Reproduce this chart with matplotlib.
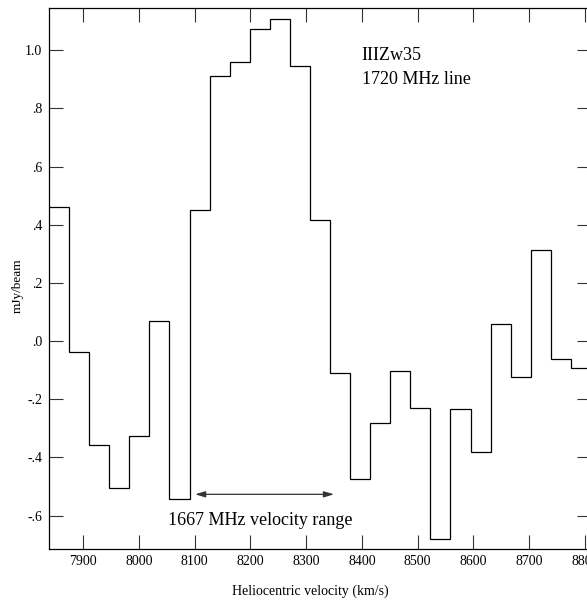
import matplotlib.pyplot as plt
from matplotlib.ticker import FixedLocator, FuncFormatter

plt.rcParams['font.family'] = ['Liberation Serif', 'DejaVu Serif']

# channel edges (km/s) and flux per channel (mJy/beam)
edges = [7839, 7875, 7911, 7947, 7983, 8019, 8055, 8091, 8127, 8163,
         8199, 8235, 8271, 8307, 8343, 8379, 8415, 8451, 8487, 8523,
         8559, 8595, 8631, 8667, 8703, 8739, 8775, 8811]
flux = [0.462, -0.037, -0.358, -0.505, -0.327, 0.070, -0.542, 0.451, 0.912,
        0.959, 1.073, 1.107, 0.946, 0.417, -0.109, -0.473, -0.281, -0.104,
        -0.230, -0.682, -0.233, -0.382, 0.059, -0.123, 0.313, -0.063, -0.094]

xticks = [7900, 8000, 8100, 8200, 8300, 8400, 8500, 8600, 8700, 8800]
yticks = [-0.6, -0.4, -0.2, 0.0, 0.2, 0.4, 0.6, 0.8, 1.0]

range_1667 = [8101, 8350]

fig = plt.figure(figsize=(5.87, 6.0), dpi=100)
ax = fig.add_axes([0.0835, 0.0845, 0.9233, 0.9017])

ax.stairs(flux, edges, color='black', lw=0.9, baseline=None)

ax.set_xlim(7839, 8811)
ax.set_ylim(-0.716, 1.144)

ax.xaxis.set_major_locator(FixedLocator(xticks))
ax.yaxis.set_major_locator(FixedLocator(yticks))
ax.yaxis.set_major_formatter(FuncFormatter(
    lambda v, p: f"{v:.1f}".replace("0.", ".") if abs(v) < 1 else f"{v:.1f}"))
ax.tick_params(direction='in', top=True, right=True, length=10, width=0.8,
               labelsize=10, color='#333333')
ax.tick_params(axis='x', pad=4)
ax.tick_params(axis='y', pad=5)
for s in ax.spines.values():
    s.set_linewidth(0.9)

ax.set_xlabel("Heliocentric velocity (km/s)", fontsize=10)
ax.xaxis.set_label_coords(0.4815, -0.066)
ax.set_ylabel("mJy/beam", fontsize=9.5)
ax.yaxis.set_label_coords(-0.046, 0.488)

ax.text(8400, 0.965, "IIIZw35", fontsize=13, va='baseline', ha='left')
ax.text(8400, 0.884, "1720 MHz line", fontsize=13, va='baseline', ha='left')

ax.annotate("", xy=(range_1667[0], -0.527), xytext=(range_1667[1], -0.527),
            arrowprops=dict(arrowstyle='<|-|>,head_length=0.6,head_width=0.18',
                            color='#333333', lw=0.9, mutation_scale=10,
                            shrinkA=0, shrinkB=0))
ax.text(sum(range_1667) / 2 - 8, -0.633, "1667 MHz velocity range",
        fontsize=13, va='baseline', ha='center')

plt.savefig("out.png", dpi=100)
